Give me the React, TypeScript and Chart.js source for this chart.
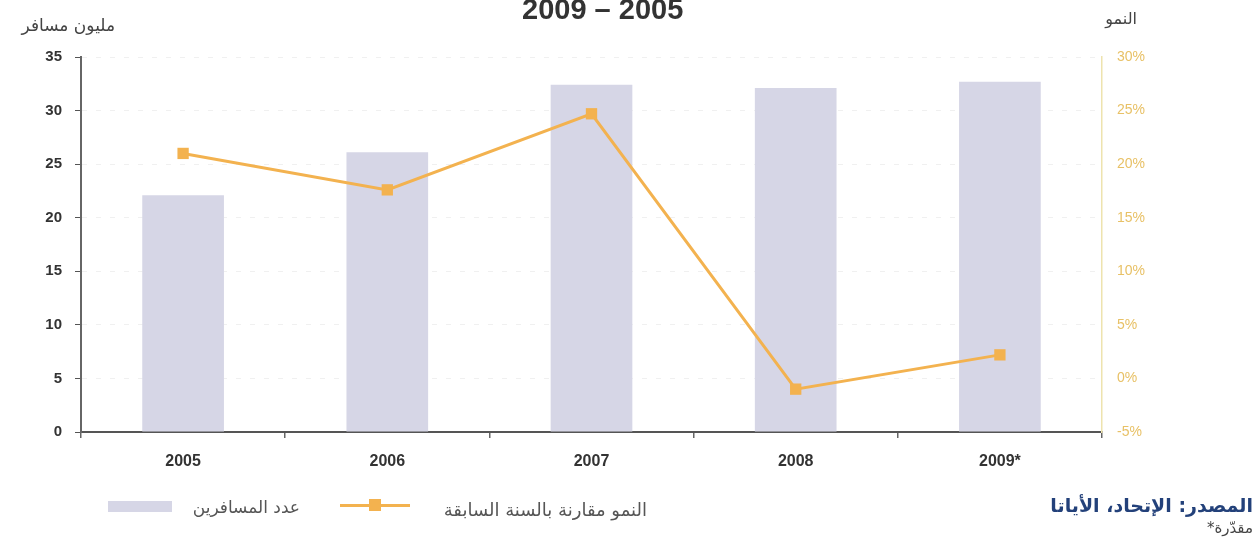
import React, { useEffect, useRef } from "react";
import { Chart, registerables } from "chart.js";

Chart.register(...registerables);

const categories = ["2005", "2006", "2007", "2008", "2009*"];
const passengers = [22.1, 26.1, 32.4, 32.1, 32.7];
const growth = [21.0, 17.6, 24.7, -1.0, 2.2];
const leftTickValues = [0, 5, 10, 15, 20, 25, 30, 35];
const rightTickValues = [-5, 0, 5, 10, 15, 20, 25, 30];

const titleText = "2009 – 2005";
const leftAxisTitle = "مليون مسافر";
const rightAxisTitle = "النمو";
const barLegend = "عدد المسافرين";
const lineLegend = "النمو مقارنة بالسنة السابقة";
const sourceText = "المصدر: الإتحاد، الأياتا";
const noteText = "*مقدّرة";

const BAR_COLOR = "#d6d6e6";
const LINE_COLOR = "#f3b24f";
const LATIN = "'Liberation Sans', Arial, sans-serif";
const ARABIC = "'DejaVu Sans', sans-serif";

export default function App() {
  const canvasRef = useRef<HTMLCanvasElement | null>(null);

  useEffect(() => {
    document.body.style.margin = "0";
    const canvas = canvasRef.current;
    if (!canvas) return;
    const chart = new Chart(canvas, {
      type: "bar",
      data: {
        labels: categories,
        datasets: [
          {
            type: "line",
            label: lineLegend,
            data: growth,
            yAxisID: "y1",
            borderColor: LINE_COLOR,
            backgroundColor: LINE_COLOR,
            borderWidth: 3,
            pointStyle: "rect",
            pointRadius: 8,
            pointBorderWidth: 0,
            pointBackgroundColor: LINE_COLOR,
            tension: 0,
            order: 1,
          } as any,
          {
            type: "bar",
            label: barLegend,
            data: passengers,
            yAxisID: "y",
            backgroundColor: BAR_COLOR,
            borderWidth: 0,
            categoryPercentage: 1,
            barPercentage: 0.4,
            order: 2,
          } as any,
        ],
      },
      options: {
        responsive: false,
        animation: false,
        layout: { padding: { top: 57, left: 0, right: 0, bottom: 0 } },
        plugins: {
          legend: { display: false },
          tooltip: { enabled: false },
          title: { display: false },
        },
        scales: {
          x: {
            offset: true,
            grid: {
              offset: true,
              drawOnChartArea: false,
              tickLength: 6,
              color: "#666",
              lineWidth: 1.5,
            },
            border: { color: "#555", width: 2 },
            ticks: {
              color: "#333",
              padding: 14,
              font: { family: LATIN, size: 16, weight: "bold" },
            },
            afterFit: (scale: any) => {
              scale.height = 111;
            },
          },
          y: {
            position: "left",
            min: 0,
            max: 35,
            afterBuildTicks: (scale: any) => {
              scale.ticks = leftTickValues.map((v) => ({ value: v }));
            },
            grid: {
              color: "rgba(0,0,0,0.06)",
              tickColor: "#555",
              tickLength: 6,
              lineWidth: 1,
            },
            border: { color: "#666", width: 2, dash: [5, 9] },
            ticks: {
              color: "#333",
              padding: 13,
              font: { family: LATIN, size: 15, weight: "bold" },
            },
            afterFit: (scale: any) => {
              scale.width = 81;
            },
          },
          y1: {
            position: "right",
            min: -5,
            max: 30,
            afterBuildTicks: (scale: any) => {
              scale.ticks = rightTickValues.map((v) => ({ value: v }));
            },
            grid: { drawOnChartArea: false, drawTicks: false },
            border: { color: "#eee3ae", width: 1.5 },
            ticks: {
              color: "#e8c166",
              padding: 15,
              font: { family: LATIN, size: 14 },
              callback: (v: any) => `${v}%`,
            },
            afterFit: (scale: any) => {
              scale.width = 153;
            },
          },
        },
      } as any,
    });
    return () => chart.destroy();
  }, []);

  const abs = (s: React.CSSProperties): React.CSSProperties => ({
    position: "absolute",
    whiteSpace: "nowrap",
    ...s,
  });

  return (
    <div
      style={{
        position: "relative",
        width: 1255,
        height: 543,
        background: "#fff",
        overflow: "hidden",
      }}
    >
      <canvas
        ref={canvasRef}
        width={1255}
        height={543}
        style={{ position: "absolute", left: 0, top: 0, width: 1255, height: 543 }}
      />
      <div
        dir="ltr"
        style={abs({
          left: 522,
          top: -5,
          lineHeight: "28px",
          fontFamily: LATIN,
          fontSize: 29,
          fontWeight: "bold",
          color: "#333",
        })}
      >
        {titleText}
      </div>
      <div
        dir="rtl"
        style={abs({
          right: 1255 - 115,
          top: 13,
          lineHeight: "24px",
          fontFamily: ARABIC,
          fontSize: 17,
          color: "#444",
        })}
      >
        {leftAxisTitle}
      </div>
      <div
        dir="rtl"
        style={abs({
          right: 1255 - 1137,
          top: 7,
          lineHeight: "24px",
          fontFamily: ARABIC,
          fontSize: 16,
          color: "#444",
        })}
      >
        {rightAxisTitle}
      </div>
      {/* legend */}
      <div
        style={abs({ left: 108, top: 501, width: 64, height: 11, background: BAR_COLOR })}
      />
      <div
        dir="rtl"
        style={abs({
          right: 1255 - 300,
          top: 495,
          lineHeight: "24px",
          fontFamily: ARABIC,
          fontSize: 17,
          color: "#555",
        })}
      >
        {barLegend}
      </div>
      <div
        style={abs({ left: 340, top: 504, width: 70, height: 3, background: LINE_COLOR })}
      />
      <div
        style={abs({ left: 369, top: 499, width: 12, height: 12, background: LINE_COLOR })}
      />
      <div
        dir="rtl"
        style={abs({
          right: 1255 - 647,
          top: 498,
          lineHeight: "24px",
          fontFamily: ARABIC,
          fontSize: 18,
          color: "#555",
        })}
      >
        {lineLegend}
      </div>
      <div
        dir="rtl"
        style={abs({
          right: 2,
          top: 492,
          lineHeight: "26px",
          fontFamily: ARABIC,
          fontSize: 19,
          fontWeight: "bold",
          color: "#23417a",
        })}
      >
        {sourceText}
      </div>
      <div
        dir="ltr"
        style={abs({
          right: 2,
          top: 518,
          lineHeight: "20px",
          fontFamily: ARABIC,
          fontSize: 15,
          color: "#444",
        })}
      >
        {noteText}
      </div>
    </div>
  );
}
